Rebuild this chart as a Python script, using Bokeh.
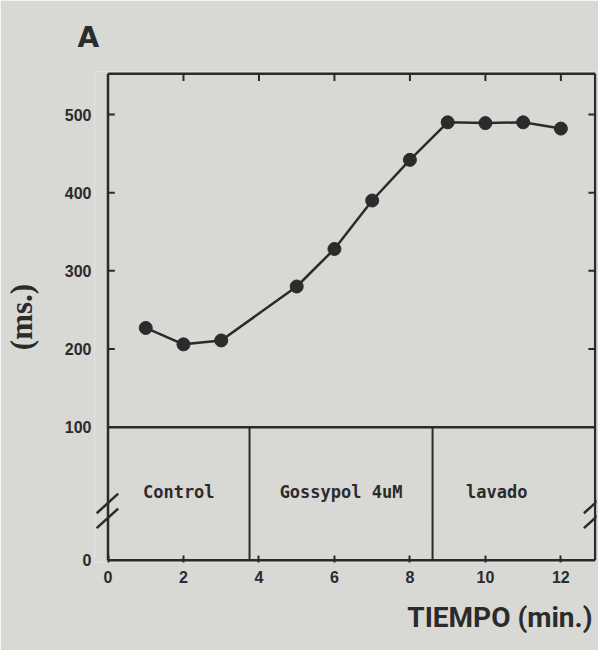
from bokeh.plotting import figure
from bokeh.models import Range1d, FixedTicker, Title
from bokeh.core.properties import value
from bokeh.embed import file_html
from bokeh.resources import INLINE

# ---- data ----
time_min = [1, 2, 3, 5, 6, 7, 8, 9, 10, 11, 12]
resp_ms = [227, 206, 211, 280, 328, 390, 442, 490, 489, 490, 482]
x_ticks = [0, 2, 4, 6, 8, 10, 12]
y_ticks = [100, 200, 300, 400, 500]
phase_names = ["Control", "Gossypol 4uM", "lavado"]
phase_bounds = [0, 3.75, 8.6, 12]

# ---- layout constants (broken axis: 0..100 drawn compressed below 100) ----
ZERO_AT = -70      # where the value 0 sits on the broken axis
TOP_AT = 552       # top edge of the box
RIGHT_AT = 12.91   # right edge of the box
BG = "#d8d8d5"
INK = "#2b2b2b"

p = figure(width=598, height=650, output_backend="svg", toolbar_location=None,
           x_range=Range1d(-0.358, 12.944), y_range=Range1d(-73, 555),
           min_border_left=94, min_border_right=2, min_border_top=71,
           min_border_bottom=88)
p.background_fill_color = BG
p.border_fill_color = BG
p.outline_line_color = None
p.xgrid.visible = False
p.ygrid.visible = False

# left axis: labels only (visible axis line drawn at x=0)
ya = p.yaxis[0]
ya.ticker = FixedTicker(ticks=[ZERO_AT] + y_ticks)
ya.major_label_overrides = {ZERO_AT: "0"}
ya.axis_line_color = None
ya.major_tick_line_color = None
ya.minor_tick_line_color = None
ya.major_tick_in = 0
ya.major_tick_out = 0
ya.major_label_standoff = 3
ya.major_label_text_font = "Liberation Sans"
ya.major_label_text_font_style = "bold"
ya.major_label_text_font_size = "16px"
ya.major_label_text_color = INK
ya.axis_label = "(ms.)"
ya.axis_label_text_font = "Liberation Serif"
ya.axis_label_text_font_style = "bold"
ya.axis_label_text_font_size = "31px"
ya.axis_label_text_color = INK
ya.axis_label_standoff = 23

xa = p.xaxis[0]
xa.ticker = FixedTicker(ticks=x_ticks)
xa.axis_line_color = None
xa.minor_tick_line_color = None
xa.major_tick_in = 7
xa.major_tick_out = 0
xa.major_tick_line_width = 2
xa.major_tick_line_color = INK
xa.major_label_standoff = 8
xa.major_label_text_font = "Liberation Sans"
xa.major_label_text_font_style = "bold"
xa.major_label_text_font_size = "16px"
xa.major_label_text_color = INK

# box and panel lines
lw = 2.5
p.segment(x0=[0, 0, RIGHT_AT, 0, 0], y0=[ZERO_AT, TOP_AT, ZERO_AT, ZERO_AT, 100],
          x1=[0, RIGHT_AT, RIGHT_AT, RIGHT_AT, RIGHT_AT], y1=[TOP_AT, TOP_AT, TOP_AT, ZERO_AT, 100],
          line_color=INK, line_width=lw)
divs = phase_bounds[1:3]
p.segment(x0=divs, y0=[ZERO_AT] * len(divs), x1=divs, y1=[100] * len(divs),
          line_color=INK, line_width=2)
# ticks on left, right and top edges
lt = y_ticks[1:]
p.segment(x0=[0] * len(lt), y0=lt, x1=[0.18] * len(lt), y1=lt, line_color=INK, line_width=2)
p.segment(x0=[RIGHT_AT] * len(lt), y0=lt, x1=[RIGHT_AT - 0.18] * len(lt), y1=lt,
          line_color=INK, line_width=2)
tt = x_ticks[1:]
p.segment(x0=tt, y0=[TOP_AT] * len(tt), x1=tt, y1=[TOP_AT - 9] * len(tt),
          line_color=INK, line_width=2)

# break marks
for xc in (0, RIGHT_AT):
    p.segment(x0=[xc - 0.3, xc - 0.3], y0=[-10, -29], x1=[xc + 0.27, xc + 0.27], y1=[15, -4],
              line_color=INK, line_width=2.5)

# phase labels
centers = [(a + b) / 2 for a, b in zip(phase_bounds[:-1], phase_bounds[1:])]
p.text(x=centers, y=[17] * len(centers), text=phase_names,
       text_font=value("DejaVu Sans Mono"), text_font_style="bold", text_font_size="17px",
       text_align="center", text_baseline="middle", text_color=INK)

# data
p.line(time_min, resp_ms, line_color=INK, line_width=2.5)
p.scatter(time_min, resp_ms, size=13, fill_color=INK, line_color=INK)

p.add_layout(Title(text="A", align="left", offset=-17, standoff=36,
                   text_font="DejaVu Sans", text_font_style="bold",
                   text_font_size="28px", text_color=INK), "above")
p.add_layout(Title(text="TIEMPO (min.)", align="right", offset=4, standoff=27,
                   text_font="Roboto", text_font_style="bold", text_font_size="28px",
                   text_color=INK), "below")

open("out.html", "w").write(file_html(p, INLINE))
